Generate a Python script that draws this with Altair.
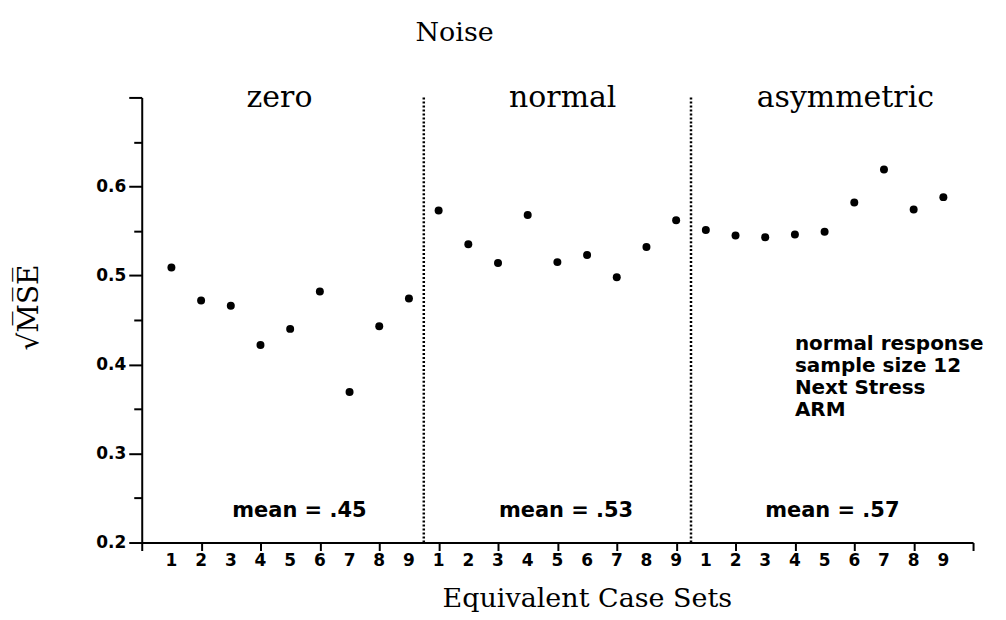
import json
import altair as alt
import pandas as pd

noise_groups = ["zero", "normal", "asymmetric"]
case_labels = ["1", "2", "3", "4", "5", "6", "7", "8", "9"]
rmse_zero = [0.509, 0.472, 0.466, 0.422, 0.440, 0.482, 0.369, 0.443, 0.474]
rmse_normal = [0.573, 0.535, 0.514, 0.568, 0.515, 0.523, 0.498, 0.532, 0.562]
rmse_asymmetric = [0.551, 0.545, 0.543, 0.546, 0.549, 0.582, 0.619, 0.574, 0.588]
mean_labels = ["mean = .45", "mean = .53", "mean = .57"]
notes = ["normal response", "sample size 12", "Next Stress", "ARM"]
dividers = [9.5, 18.5]
group_label_x = [4.64, 14.18, 23.7]
mean_label_x = [5.31, 14.29, 23.26]
y_ticks = [0.2, 0.25, 0.3, 0.35, 0.4, 0.45, 0.5, 0.55, 0.6, 0.65, 0.7]
y_tick_labels = ["0.2", "", "0.3", "", "0.4", "", "0.5", "", "0.6", "", ""]

rows = []
for gi, (g, series) in enumerate(zip(noise_groups, [rmse_zero, rmse_normal, rmse_asymmetric])):
    for ci, v in enumerate(series):
        rows.append({"group": g, "case": case_labels[ci], "pos": gi * 9 + ci + 1, "rmse": v})
df = pd.DataFrame(rows)

x_scale = alt.Scale(domain=[0, 28], nice=False, zero=False)
y_scale = alt.Scale(domain=[0.2, 0.7], nice=False, zero=False)

x_axis = alt.Axis(
    values=[float(v) for v in range(0, 29)],
    labels=False,
    title="Equivalent Case Sets",
    titleFont="DejaVu Serif", titleFontSize=27, titleFontWeight="normal",
    titleX=446, titleY=64, titleBaseline="alphabetic", titleAlign="center",
    tickSize=8, grid=False,
)
y_axis = alt.Axis(
    values=y_ticks,
    labelExpr=f"{json.dumps(y_tick_labels)}[round((datum.value - 0.2) * 20)]",
    title="\u221aM\u0305S\u0305E\u0305",
    titleFont="DejaVu Serif", titleFontSize=28, titleFontWeight="normal",
    titleX=-112, titleY=210, titleAlign="center", titleBaseline="middle", titleAngle=270,
    tickSize={"condition": {"test": "round(datum.value * 20) % 2 == 1", "value": 8}, "value": 13},
    labelPadding=3, labelFontSize=17, labelFlush=False, labelOverlap=False,
    grid=False,
)

points = alt.Chart(df).mark_circle(size=64, color="black", opacity=1).encode(
    x=alt.X("pos:Q", scale=x_scale, axis=x_axis),
    y=alt.Y("rmse:Q", scale=y_scale, axis=y_axis),
)

# case-set tick labels 1..9 under each noise group
case_text = alt.Chart(df).mark_text(
    font="DejaVu Sans", fontSize=17, fontWeight="bold", baseline="top", align="center", color="black"
).encode(x=alt.X("pos:Q", scale=x_scale, axis=x_axis), y=alt.value(457), text="case:N")

layers = [points, case_text]
anchor = pd.DataFrame({"a": [0]})
for d in dividers:
    layers.append(
        alt.Chart(anchor).mark_rule(color="black", strokeDash=[2, 2], strokeWidth=2.5).encode(
            x=alt.datum(d), y=alt.datum(0.2), y2=alt.datum(0.7)
        )
    )
for name, lx in zip(noise_groups, group_label_x):
    layers.append(
        alt.Chart(anchor).mark_text(
            font="DejaVu Serif", fontSize=30, baseline="alphabetic", align="center", color="black"
        ).encode(x=alt.datum(lx), y=alt.datum(0.689), text=alt.value(name))
    )
for lab, mx in zip(mean_labels, mean_label_x):
    layers.append(
        alt.Chart(anchor).mark_text(
            font="DejaVu Sans", fontSize=21, fontWeight="bold", baseline="alphabetic",
            align="center", color="black"
        ).encode(x=alt.datum(mx), y=alt.datum(0.229), text=alt.value(lab))
    )
layers.append(
    alt.Chart(anchor).mark_text(
        font="DejaVu Sans", fontSize=20, fontWeight="bold", baseline="alphabetic", align="left",
        color="black", lineHeight=22
    ).encode(x=alt.datum(22.0), y=alt.datum(0.4165), text=alt.value(notes))
)

chart = alt.layer(*layers).properties(
    width=833, height=446,
    title=alt.TitleParams("Noise", font="DejaVu Serif", fontSize=27, fontWeight="normal",
                          anchor="middle", dx=-103, offset=36, color="black"),
    autosize=alt.AutoSizeParams(type="none"),
    padding={"left": 134, "top": 89, "right": 25, "bottom": 70},
    background="white",
).configure_view(stroke=None).configure_axis(
    grid=False, domainColor="black", domainWidth=2, tickColor="black", tickWidth=2,
    labelFont="DejaVu Sans", labelFontWeight="bold", labelColor="black", titleColor="black",
)

chart.save("out.html", embed_options={"renderer": "svg", "actions": False})
